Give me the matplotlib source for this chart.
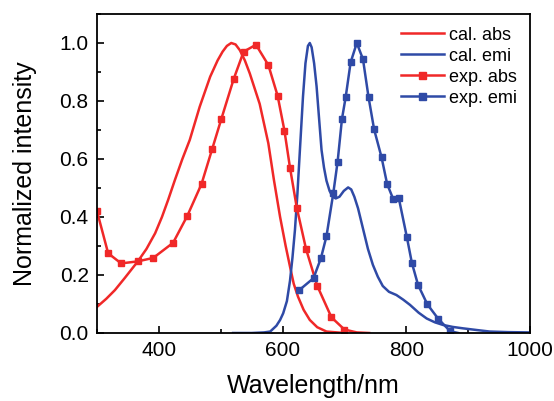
import matplotlib
matplotlib.use("Agg")
import matplotlib.pyplot as plt
from matplotlib.ticker import MultipleLocator, FormatStrFormatter

plt.rcParams['font.family'] = ['Liberation Sans', 'DejaVu Sans']

# values
cal_abs_x = [300, 315, 329, 345, 366, 380, 394, 405, 415, 426, 438, 450, 466, 483, 495, 503, 510, 517, 524, 531, 539, 547,
             563, 577, 586, 596, 605, 612, 618, 625, 634, 644, 656, 671, 700]
cal_abs_y = [0.09, 0.118, 0.148, 0.19, 0.247, 0.29, 0.344, 0.40, 0.459, 0.528, 0.60, 0.666, 0.78, 0.884, 0.94, 0.97, 0.99, 1.0, 0.995, 0.975, 0.94, 0.895,
             0.79, 0.654, 0.528, 0.40, 0.30, 0.229, 0.17, 0.125, 0.08, 0.045, 0.02, 0.005, 0.0]

cal_emi_x = [520, 550, 570, 580, 590, 596, 601, 607, 612, 616, 620, 624, 628, 633, 637, 641, 644, 647, 651, 655, 659, 663,
             667, 671, 676, 681, 686, 692, 699, 706, 711, 716, 722, 730, 738, 746, 754, 762, 772, 784, 795, 806, 820,
             833, 846, 859, 875, 892, 915, 935, 965, 1000]
cal_emi_y = [0.0, 0.0, 0.002, 0.005, 0.025, 0.045, 0.068, 0.11, 0.18, 0.26, 0.355, 0.48, 0.63, 0.815, 0.93, 0.99, 1.0, 0.985, 0.93, 0.85, 0.74, 0.631,
             0.57, 0.525, 0.49, 0.47, 0.464, 0.47, 0.49, 0.502, 0.495, 0.47, 0.43, 0.36, 0.29, 0.235, 0.194, 0.162, 0.142, 0.131, 0.115, 0.097, 0.07,
             0.05, 0.037, 0.028, 0.021, 0.016, 0.01, 0.005, 0.003, 0.002]

exp_abs_x = [300, 318, 339, 366, 391, 423, 446, 469, 486, 501, 521, 537, 557, 577, 592, 603, 612, 623, 638, 656, 679, 700, 720, 740]
exp_abs_y = [0.42, 0.275, 0.24, 0.247, 0.259, 0.311, 0.404, 0.514, 0.633, 0.738, 0.876, 0.970, 0.994, 0.924, 0.818, 0.698, 0.570, 0.432, 0.289, 0.163, 0.054, 0.012, 0.002, 0.0]

exp_emi_x = [627, 650, 662, 671, 682, 689, 696, 702, 710, 720, 730, 739, 748, 760, 769, 779, 788, 801, 809, 819, 834, 852, 871, 884]
exp_emi_y = [0.148, 0.189, 0.258, 0.334, 0.482, 0.591, 0.738, 0.813, 0.933, 1.0, 0.944, 0.813, 0.702, 0.606, 0.514, 0.461, 0.464, 0.33, 0.242, 0.166, 0.099, 0.048, 0.006, 0.0]

red = '#f02828'
blue = '#2f4aa6'

fig = plt.figure(figsize=(5.54, 4.01), dpi=100)
ax = fig.add_axes([97/554, 1-333/401, 433/554, 319/401])

ax.plot(cal_abs_x, cal_abs_y, color=red, lw=1.8, label='cal. abs')
ax.plot(cal_emi_x, cal_emi_y, color=blue, lw=1.8, label='cal. emi')
ax.plot(exp_abs_x, exp_abs_y, color=red, lw=1.8, marker='s', ms=4.2,
        markevery=list(range(len(exp_abs_x) - 2)), label='exp. abs')
ax.plot(exp_emi_x, exp_emi_y, color=blue, lw=1.8, marker='s', ms=4.2,
        markevery=list(range(len(exp_emi_x) - 1)), label='exp. emi')

ax.set_xlim(300, 1000)
ax.set_ylim(0, 1.1)
ax.xaxis.set_major_locator(MultipleLocator(200))
ax.xaxis.set_minor_locator(MultipleLocator(100))
ax.yaxis.set_major_locator(MultipleLocator(0.2))
ax.yaxis.set_minor_locator(MultipleLocator(0.1))
ax.yaxis.set_major_formatter(FormatStrFormatter('%.1f'))
ax.tick_params(which='both', direction='in', top=False, right=False, width=1.2, labelsize=15, pad=6)
ax.tick_params(which='major', length=5)
ax.tick_params(which='minor', length=3)
for s in ax.spines.values():
    s.set_linewidth(1.3)

ax.set_xlabel('Wavelength/nm', fontsize=18, labelpad=10)
ax.set_ylabel('Normalized intensity', fontsize=18, labelpad=16)

ax.legend(loc='upper right', frameon=False, fontsize=13, handlelength=2.4,
          handletextpad=0.3, labelspacing=0.22, borderaxespad=0.3, markerscale=1.2)

fig.savefig('out.png', dpi=100)
